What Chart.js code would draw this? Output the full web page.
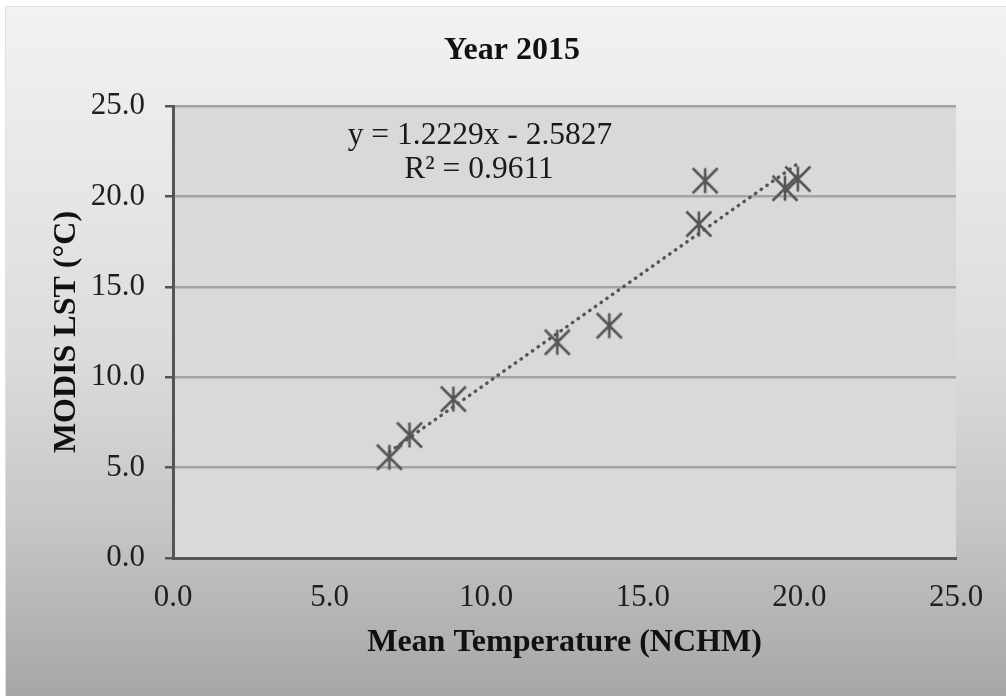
<!DOCTYPE html>
<html>
<head>
<meta charset="utf-8">
<script src="https://cdn.jsdelivr.net/npm/chart.js@4"></script>
<style>
  html, body { margin: 0; padding: 0; background: #ffffff; }
  canvas { display: block; }
</style>
</head>
<body>
<canvas id="chart" width="1006" height="696"></canvas>
<script>
// Station mean temperature (NCHM) vs MODIS land surface temperature, 2015
const meanTemp = [6.91, 7.55, 8.95, 12.27, 13.93, 16.99, 16.79, 19.54, 19.95];
const modisLst = [5.57, 6.80, 8.79, 11.93, 12.85, 20.87, 18.47, 20.45, 20.96];

// Linear trendline: slope, intercept, R²
const trendSlope = 1.2229;
const trendIntercept = -2.5827;
const trendR2 = 0.9611;

const axisMin = 0;
const axisMax = 25;
const axisStep = 5;

const chartTitle = 'Year 2015';
const xTitle = 'Mean Temperature (NCHM)';
const yTitle = 'MODIS LST (°C)';

const FONT = '"Liberation Serif", "Times New Roman", serif';
const INK = '#555555';

// Excel-style star marker: an X with a vertical bar through it
function starMarker(size, color, width) {
  const c = document.createElement('canvas');
  c.width = size; c.height = size;
  const g = c.getContext('2d');
  const m = 1.5, e = size - 1.5, mid = size / 2;
  g.strokeStyle = color;
  g.lineWidth = width;
  g.beginPath();
  g.moveTo(m, m); g.lineTo(e, e);
  g.moveTo(e, m); g.lineTo(m, e);
  g.moveTo(mid, m); g.lineTo(mid, e);
  g.stroke();
  return c;
}

const points = meanTemp.map((x, i) => ({ x: x, y: modisLst[i] }));
const xLo = Math.min(...meanTemp);
const xHi = Math.max(...meanTemp);
const trendPoints = [xLo, xHi].map(x => ({ x: x, y: trendSlope * x + trendIntercept }));

const fmt = v => (v < 0 ? '- ' + Math.abs(v).toFixed(4) : '+ ' + v.toFixed(4));
const eqLine1 = 'y = ' + trendSlope.toFixed(4) + 'x ' + fmt(trendIntercept);
const eqLine2 = 'R² = ' + trendR2.toFixed(4);

// Gradient chart background, flat plot-area fill and the chart title
const backdrop = {
  id: 'backdrop',
  beforeDraw(chart) {
    const { ctx, chartArea: a, width, height } = chart;
    ctx.save();
    ctx.fillStyle = '#ffffff';
    ctx.fillRect(0, 0, width, height);
    const grad = ctx.createLinearGradient(0, 6, 0, height);
    grad.addColorStop(0, '#f2f2f2');
    grad.addColorStop(0.5, '#dcdcdc');
    grad.addColorStop(0.75, '#c6c6c6');
    grad.addColorStop(1, '#a6a6a6');
    ctx.fillStyle = grad;
    ctx.fillRect(5, 6, width - 5, height - 6);
    ctx.strokeStyle = '#e0e0e0';
    ctx.lineWidth = 1;
    ctx.beginPath();
    ctx.moveTo(5.5, height); ctx.lineTo(5.5, 6.5); ctx.lineTo(width, 6.5);
    ctx.stroke();
    ctx.fillStyle = '#d9d9d9';
    ctx.fillRect(a.left, a.top, a.right - a.left, a.bottom - a.top);

    ctx.font = 'bold 32px ' + FONT;
    ctx.fillStyle = '#111111';
    ctx.textAlign = 'center';
    ctx.textBaseline = 'middle';
    ctx.fillText(chartTitle, 512, 51);
    ctx.restore();
  }
};

// Trendline equation label
const equation = {
  id: 'equation',
  afterDatasetsDraw(chart) {
    const { ctx } = chart;
    ctx.save();
    ctx.font = '31.5px ' + FONT;
    ctx.fillStyle = '#1a1a1a';
    ctx.textAlign = 'center';
    ctx.textBaseline = 'middle';
    ctx.fillText(eqLine1, 480, 136);
    ctx.fillText(eqLine2, 479, 170);
    ctx.restore();
  }
};

new Chart(document.getElementById('chart'), {
  type: 'scatter',
  data: {
    datasets: [
      {
        label: 'Observations',
        data: points,
        pointStyle: starMarker(28, INK, 2.6),
        pointRadius: 14,
        pointHoverRadius: 14,
        showLine: false,
        order: 2
      },
      {
        type: 'line',
        label: 'Linear trend',
        data: trendPoints,
        borderColor: INK,
        borderWidth: 3.4,
        borderDash: [0.5, 6.5],
        borderCapStyle: 'round',
        pointRadius: 0,
        fill: false,
        order: 1
      }
    ]
  },
  options: {
    responsive: false,
    animation: false,
    events: [],
    layout: { padding: { left: 0, right: 50, top: 106, bottom: 0 } },
    plugins: {
      legend: { display: false },
      tooltip: { enabled: false },
      title: { display: false }
    },
    scales: {
      x: {
        type: 'linear',
        min: axisMin,
        max: axisMax,
        afterFit(scale) { scale.height = 138; },
        ticks: {
          stepSize: axisStep,
          color: '#1f1f1f',
          font: { family: FONT, size: 31 },
          padding: 21,
          maxRotation: 0,
          callback: v => Number(v).toFixed(1)
        },
        grid: { display: false, drawTicks: false },
        border: { display: true, color: INK, width: 3 },
        title: {
          display: true,
          text: xTitle,
          color: '#111111',
          font: { family: FONT, size: 32, weight: 'bold', lineHeight: 1.2 },
          padding: { top: 0, bottom: 34 }
        }
      },
      y: {
        type: 'linear',
        min: axisMin,
        max: axisMax,
        afterFit(scale) { scale.width = 173; },
        ticks: {
          stepSize: axisStep,
          color: '#1f1f1f',
          font: { family: FONT, size: 31 },
          padding: 20,
          callback: v => Number(v).toFixed(1)
        },
        grid: {
          color: '#a3a3a3',
          lineWidth: 2.5,
          drawTicks: true,
          tickLength: 8,
          tickColor: INK,
          tickWidth: 2.5
        },
        border: { display: true, color: INK, width: 3 },
        title: {
          display: true,
          text: yTitle,
          color: '#111111',
          font: { family: FONT, size: 32, weight: 'bold', lineHeight: 1.2 },
          padding: { top: 48, bottom: 0 }
        }
      }
    }
  },
  plugins: [backdrop, equation]
});
</script>
</body>
</html>
